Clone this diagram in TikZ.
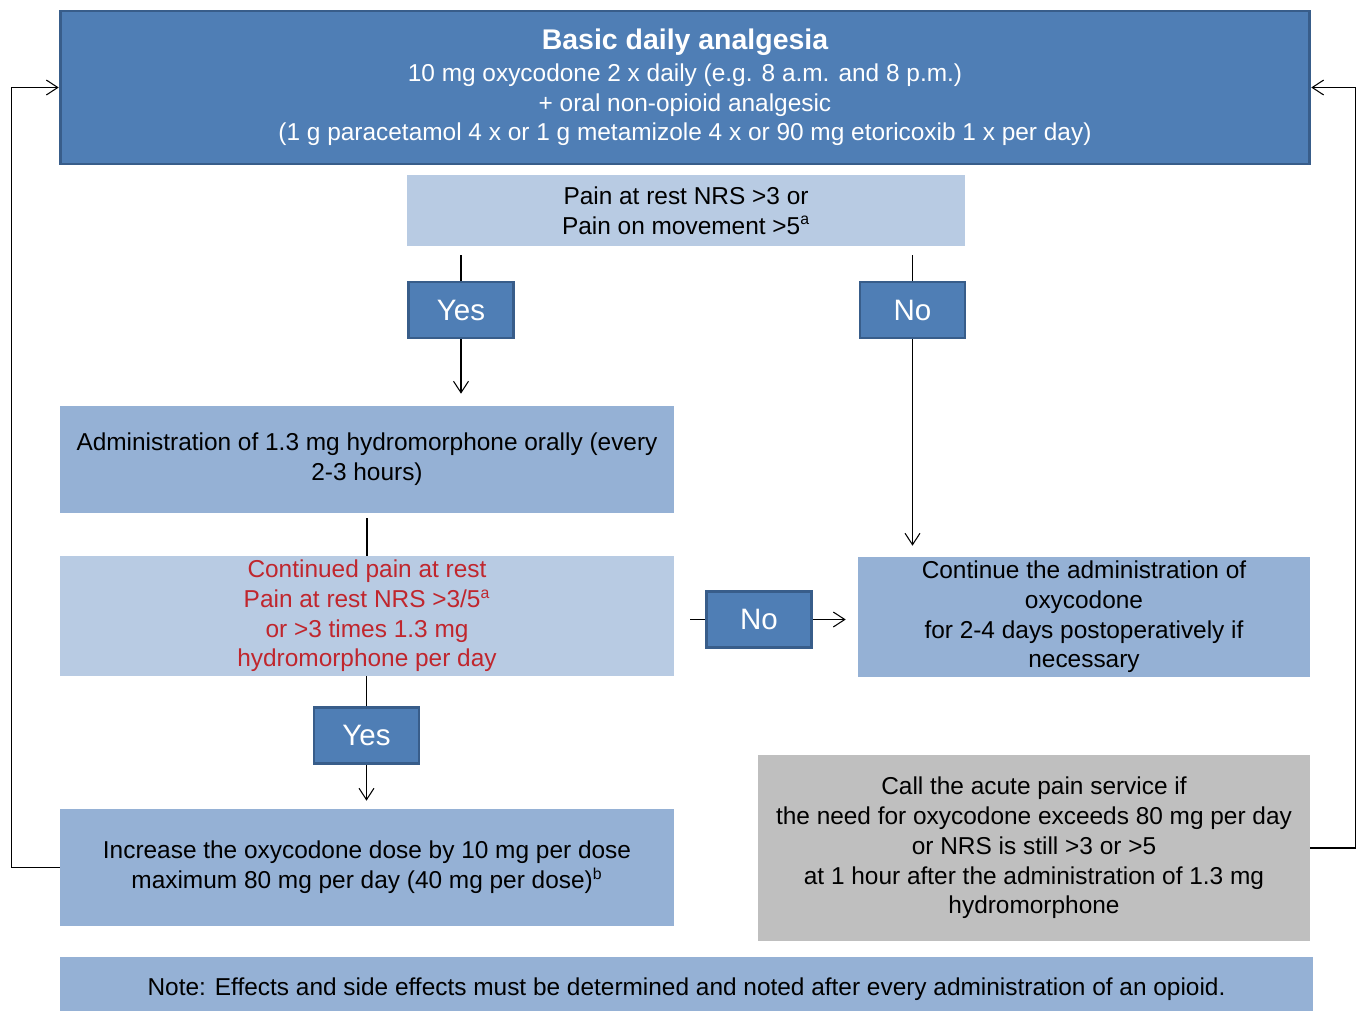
\documentclass[tikz,border=0pt]{standalone}
\usepackage{fontspec}
\setmainfont{Liberation Sans}
\usetikzlibrary{arrows.meta}
\definecolor{darkfill}{HTML}{4F7EB5}
\definecolor{darkline}{HTML}{385D8A}
\definecolor{midfill}{HTML}{95B1D5}
\definecolor{lightfill}{HTML}{B8CBE3}
\definecolor{greyfill}{HTML}{BFBFBF}
\definecolor{warnred}{HTML}{C0262D}
\newcommand{\fnmark}[1]{\textsuperscript{\fontsize{9}{9}\selectfont #1}}

\begin{document}
\begin{tikzpicture}[x=0.02cm,y=-0.02cm,
    txt/.style={align=center,font=\fontsize{13.9}{16.9}\selectfont,inner sep=0pt},
    darkbox/.style={txt,fill=darkfill,draw=darkline,line width=1.6pt,text=white},
    ansbox/.style={darkbox,minimum width=2.1cm,minimum height=1.12cm,font=\fontsize{16.8}{18}\selectfont},
    midbox/.style={txt,fill=midfill},
    lightbox/.style={txt,fill=lightfill},
    greybox/.style={txt,fill=greyfill},
    link/.style={line width=0.6pt},
    >={Straight Barb[length=6.5pt,width=8.5pt]}]
  \useasboundingbox (0,0) rectangle (1357,1011);
  % boxes
  \node[darkbox,minimum width=25cm,minimum height=3.06cm] (top) at (685,87.5)
    {{\fontsize{16.2}{18}\selectfont\bfseries Basic daily analgesia}\\[1pt]
     10 mg oxycodone 2 x daily (e.g. 8 a.m. and 8 p.m.)\\
     + oral non-opioid analgesic\\
     (1 g paracetamol 4 x or 1 g metamizole 4 x or 90 mg etoricoxib 1 x per day)};
  \node[lightbox,minimum width=11.16cm,minimum height=1.42cm] (pain) at (686,210.5)
    {Pain at rest NRS >3 or\\Pain on movement >5\fnmark{a}};
  \node[ansbox] (yes1) at (461,310) {Yes};
  \node[ansbox] (no1) at (912.5,310) {No};
  \node[midbox,minimum width=12.28cm,minimum height=2.14cm] (admin) at (367,459.5)
    {Administration of 1.3 mg hydromorphone orally (every\\2-3 hours)};
  \node[lightbox,minimum width=12.28cm,minimum height=2.4cm,text=warnred] (contd) at (367,616)
    {Continued pain at rest\\Pain at rest NRS >3/5\fnmark{a}\\or >3 times 1.3 mg\\hydromorphone per day};
  \node[ansbox] (no2) at (759,619.5) {No};
  \node[midbox,minimum width=9.04cm,minimum height=2.4cm] (cont) at (1084,617)
    {Continue the administration of\\oxycodone\\for 2-4 days postoperatively if\\necessary};
  \node[ansbox] (yes2) at (366.5,735.5) {Yes};
  \node[midbox,minimum width=12.28cm,minimum height=2.34cm] (incr) at (367,867.5)
    {Increase the oxycodone dose by 10 mg per dose\\maximum 80 mg per day (40 mg per dose)\fnmark{b}};
  \node[greybox,minimum width=11.04cm,minimum height=3.74cm] (call) at (1034,848)
    {Call the acute pain service if\\the need for oxycodone exceeds 80 mg per day\\or NRS is still >3 or >5\\at 1 hour after the administration of 1.3 mg\\hydromorphone};
  \node[midbox,minimum width=25.06cm,minimum height=1.3cm] (note) at (686.5,989)
    {Note: Effects and side effects must be determined and noted after every administration of an opioid.};
  % connectors
  \draw[link,shorten <=0.18cm] (pain.south -| yes1.north) -- (yes1.north);
  \draw[link,->,shorten >=0.24cm] (yes1.south) -- (yes1.south |- admin.north);
  \draw[link,shorten <=0.18cm] (pain.south -| no1.north) -- (no1.north);
  \draw[link,->,shorten >=0.22cm] (no1.south) -- (no1.south |- cont.north);
  \draw[link,shorten <=0.1cm] (admin.south) -- (contd.north);
  \draw[link,shorten <=0.32cm] (contd.east |- no2.west) -- (no2.west);
  \draw[link,->,shorten >=0.24cm] (no2.east) -- (no2.east -| cont.west);
  \draw[link] (contd.south -| yes2.north) -- (yes2.north);
  \draw[link,->,shorten >=0.16cm] (yes2.south) -- (yes2.south |- incr.north);
  \draw[link,->] (incr.west) -- ++(-48,0) |- (top.west);
  \draw[link,->] (call.east) -- ++(45,0) |- (top.east);
\end{tikzpicture}
\end{document}
